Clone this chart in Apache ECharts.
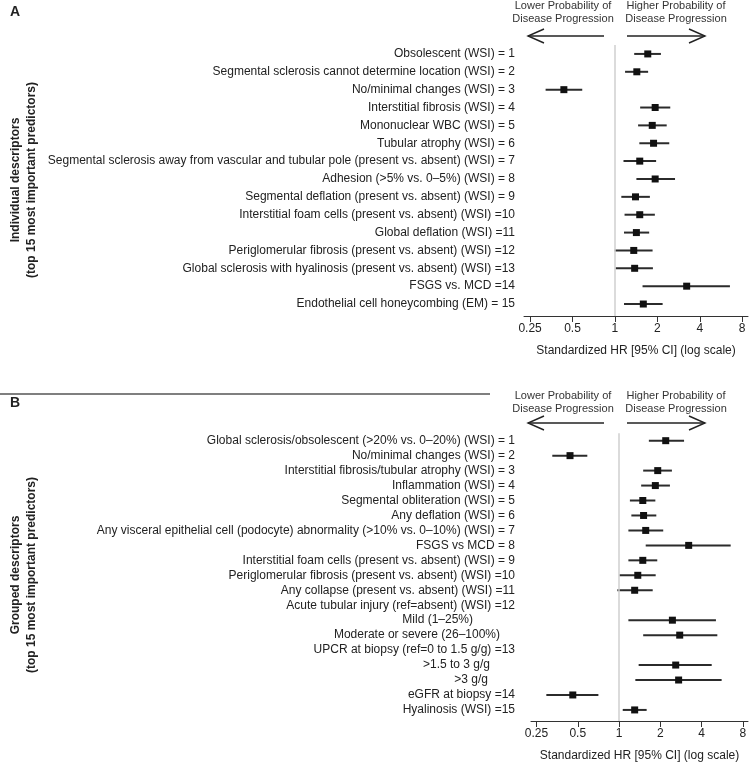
<!DOCTYPE html>
<html>
<head>
<meta charset="utf-8">
<script src="https://cdn.jsdelivr.net/npm/echarts@6/dist/echarts.min.js"></script>
<style>
html,body{margin:0;padding:0;background:#fff;}
#chart{width:754px;height:763px;}
</style>
</head>
<body>
<div id="chart"></div>
<script>
// ---------- Panel A data ----------
const labelsA = [
  "Obsolescent (WSI) = 1",
  "Segmental sclerosis cannot determine location (WSI) = 2",
  "No/minimal changes (WSI) = 3",
  "Interstitial fibrosis (WSI) = 4",
  "Mononuclear WBC (WSI) = 5",
  "Tubular atrophy (WSI) = 6",
  "Segmental sclerosis away from vascular and tubular pole (present vs. absent) (WSI) = 7",
  "Adhesion (>5% vs. 0\u20135%) (WSI) = 8",
  "Segmental deflation (present vs. absent) (WSI) = 9",
  "Interstitial foam cells (present vs. absent) (WSI) =10",
  "Global deflation (WSI) =11",
  "Periglomerular fibrosis (present vs. absent) (WSI) =12",
  "Global sclerosis with hyalinosis (present vs. absent) (WSI) =13",
  "FSGS vs. MCD =14",
  "Endothelial cell honeycombing (EM) = 15"
];
const hrA    = [1.71, 1.43, 0.434, 1.93, 1.84, 1.88, 1.50, 1.93, 1.40, 1.50, 1.42, 1.36, 1.38, 3.23, 1.59];
const lowerA = [1.37, 1.18, 0.322, 1.51, 1.46, 1.49, 1.15, 1.42, 1.11, 1.17, 1.16, 0.995, 1.01, 1.57, 1.16];
const upperA = [2.12, 1.72, 0.586, 2.47, 2.33, 2.43, 1.96, 2.67, 1.77, 1.92, 1.75, 1.85, 1.86, 6.55, 2.18];

// ---------- Panel B data ----------
const labelsB = [
  "Global sclerosis/obsolescent (>20% vs. 0\u201320%) (WSI) = 1",
  "No/minimal changes (WSI) = 2",
  "Interstitial fibrosis/tubular atrophy (WSI) = 3",
  "Inflammation (WSI) = 4",
  "Segmental obliteration (WSI) = 5",
  "Any deflation (WSI) = 6",
  "Any visceral epithelial cell (podocyte) abnormality (>10% vs. 0\u201310%) (WSI) = 7",
  "FSGS vs MCD = 8",
  "Interstitial foam cells (present vs. absent) (WSI) = 9",
  "Periglomerular fibrosis (present vs. absent) (WSI) =10",
  "Any collapse (present vs. absent) (WSI) =11",
  "Acute tubular injury (ref=absent) (WSI) =12",
  "Mild (1\u201325%)",
  "Moderate or severe (26\u2013100%)",
  "UPCR at biopsy (ref=0 to 1.5 g/g) =13",
  ">1.5 to 3 g/g",
  ">3 g/g",
  "eGFR at biopsy =14",
  "Hyalinosis (WSI) =15"
];
const hrB    = [2.19, 0.439, 1.915, 1.84, 1.49, 1.51, 1.565, 3.22, 1.49, 1.37, 1.30, null, 2.45, 2.77, null, 2.59, 2.72, 0.46, 1.30];
const lowerB = [1.65, 0.326, 1.50, 1.45, 1.20, 1.23, 1.17, 1.565, 1.17, 1.005, 0.972, null, 1.17, 1.50, null, 1.39, 1.315, 0.295, 1.064];
const upperB = [2.98, 0.587, 2.43, 2.35, 1.84, 1.87, 2.10, 6.52, 1.90, 1.85, 1.76, null, 5.09, 5.21, null, 4.74, 5.60, 0.707, 1.59];

const tickValues = [0.25, 0.5, 1, 2, 4, 8];
const axisTitle = "Standardized HR [95% CI] (log scale)";
const leftHeader = ["Lower Probability of", "Disease Progression"];
const rightHeader = ["Higher Probability of", "Disease Progression"];

// label style (right indent, px) for the sub-level rows of panel B
const indentB = {13: 42, 14: 15, 16: 25, 17: 27};

// ---------- build ----------
const FONT = "'Liberation Sans', Arial, Helvetica, sans-serif";
const TXT = '#222';

function rows(hr, lo, hi) {
  const out = [];
  hr.forEach((v, i) => { if (v != null) out.push([v, lo[i], hi[i], i + 1]); });
  return out;
}
function idx(n) { return Array.from({length: n}, (_, i) => i + 1); }

function renderCI(params, api) {
  const y = api.value(3);
  const p = api.coord([api.value(0), y]);
  const a = api.coord([api.value(1), y]);
  const b = api.coord([api.value(2), y]);
  return {
    type: 'group',
    children: [
      {type: 'line', shape: {x1: a[0], y1: a[1], x2: b[0], y2: b[1]}, style: {stroke: '#2b2b2b', lineWidth: 2}},
      {type: 'rect', shape: {x: p[0] - 3.5, y: p[1] - 3.5, width: 7, height: 7}, style: {fill: '#111'}}
    ]
  };
}

function xAx(gi, min, max) {
  return {
    type: 'log', logBase: 2, gridIndex: gi, min: min, max: max,
    axisLine: {show: true, lineStyle: {color: '#333', width: 1}},
    axisTick: {show: true, length: 6, lineStyle: {color: '#333'}, customValues: tickValues},
    axisLabel: {show: true, fontSize: 12, color: TXT, fontFamily: FONT, margin: 7, customValues: tickValues,
      formatter: v => String(v)},
    splitLine: {show: false},
    minorTick: {show: false},
    name: axisTitle, nameLocation: 'middle', nameGap: 29,
    nameTextStyle: {fontSize: 12, color: TXT, fontFamily: FONT}
  };
}
function yAx(gi, labels, max, margin, indent) {
  const rich = {};
  Object.keys(indent || {}).forEach(k => {
    rich['i' + k] = {fontSize: 12, color: TXT, fontFamily: FONT, padding: [0, indent[k], 0, 0]};
  });
  return {
    type: 'value', gridIndex: gi, inverse: true, min: 0.5, max: max,
    axisLine: {show: false}, axisTick: {show: false}, splitLine: {show: false},
    axisLabel: {show: true, fontSize: 12, color: TXT, fontFamily: FONT, margin: margin,
      customValues: idx(labels.length), rich: rich,
      formatter: v => {
        const n = Math.round(v);
        const t = labels[n - 1] || '';
        return (indent && indent[n]) ? '{i' + n + '|' + t + '}' : t;
      }}
  };
}
function series(gi, data) {
  return {
    type: 'custom', xAxisIndex: gi, yAxisIndex: gi, data: data,
    encode: {x: [0, 1, 2], y: 3},
    renderItem: renderCI, silent: true, clip: false,
    markLine: {
      silent: true, symbol: 'none', label: {show: false},
      lineStyle: {color: '#cfcfcf', width: 1.5, type: 'solid'},
      data: [{xAxis: 1}]
    }
  };
}

function arrowGraphics(y, txtY) {
  const g = [];
  const st = {stroke: '#222', lineWidth: 1.4, fill: null};
  g.push({type: 'polyline', shape: {points: [[604, y], [528, y]]}, style: st});
  g.push({type: 'polyline', shape: {points: [[544, y - 7], [528, y], [544, y + 7]]}, style: st});
  g.push({type: 'polyline', shape: {points: [[627, y], [705, y]]}, style: st});
  g.push({type: 'polyline', shape: {points: [[689, y - 7], [705, y], [689, y + 7]]}, style: st});
  leftHeader.forEach((t, i) => g.push({type: 'text', x: 563, y: txtY + i * 13,
    style: {text: t, fontSize: 11, fill: '#333', fontFamily: FONT, textAlign: 'center', textVerticalAlign: 'middle'}}));
  rightHeader.forEach((t, i) => g.push({type: 'text', x: 676, y: txtY + i * 13,
    style: {text: t, fontSize: 11, fill: '#333', fontFamily: FONT, textAlign: 'center', textVerticalAlign: 'middle'}}));
  return g;
}
function sideTitle(cy, l1, l2) {
  return [
    {type: 'text', x: 16, y: cy, rotation: Math.PI / 2,
      style: {text: l1, fontSize: 12, fontWeight: 'bold', fill: TXT, fontFamily: FONT, textAlign: 'center', textVerticalAlign: 'middle'}},
    {type: 'text', x: 32, y: cy, rotation: Math.PI / 2,
      style: {text: l2, fontSize: 12, fontWeight: 'bold', fill: TXT, fontFamily: FONT, textAlign: 'center', textVerticalAlign: 'middle'}}
  ];
}

const graphics = [].concat(
  arrowGraphics(36, 6),
  arrowGraphics(423, 396),
  sideTitle(180, "Individual descriptors", "(top 15 most important predictors)"),
  sideTitle(575, "Grouped descriptors", "(top 15 most important predictors)"),
  [
    {type: 'text', x: 10, y: 12, style: {text: 'A', fontSize: 14, fontWeight: 'bold', fill: TXT, fontFamily: FONT, textVerticalAlign: 'middle'}},
    {type: 'text', x: 10, y: 403, style: {text: 'B', fontSize: 14, fontWeight: 'bold', fill: TXT, fontFamily: FONT, textVerticalAlign: 'middle'}},
    {type: 'line', shape: {x1: 0, y1: 394, x2: 490, y2: 394}, style: {stroke: '#555', lineWidth: 1.5}}
  ]
);

const chart = echarts.init(document.getElementById('chart'), null, {renderer: 'canvas'});
chart.setOption({
  animation: false,
  backgroundColor: '#fff',
  textStyle: {fontFamily: FONT},
  grid: [
    {left: 524, right: 6, top: 45, height: 271, containLabel: false},
    {left: 531, right: 6, top: 433.2, height: 287.8, containLabel: false}
  ],
  xAxis: [xAx(0, 0.2262, 8.80), xAx(1, 0.228, 8.72)],
  yAxis: [yAx(0, labelsA, 15.67, 9, null), yAx(1, labelsB, 19.74, 16, indentB)],
  series: [series(0, rows(hrA, lowerA, upperA)), series(1, rows(hrB, lowerB, upperB))],
  graphic: graphics
});
</script>
</body>
</html>
